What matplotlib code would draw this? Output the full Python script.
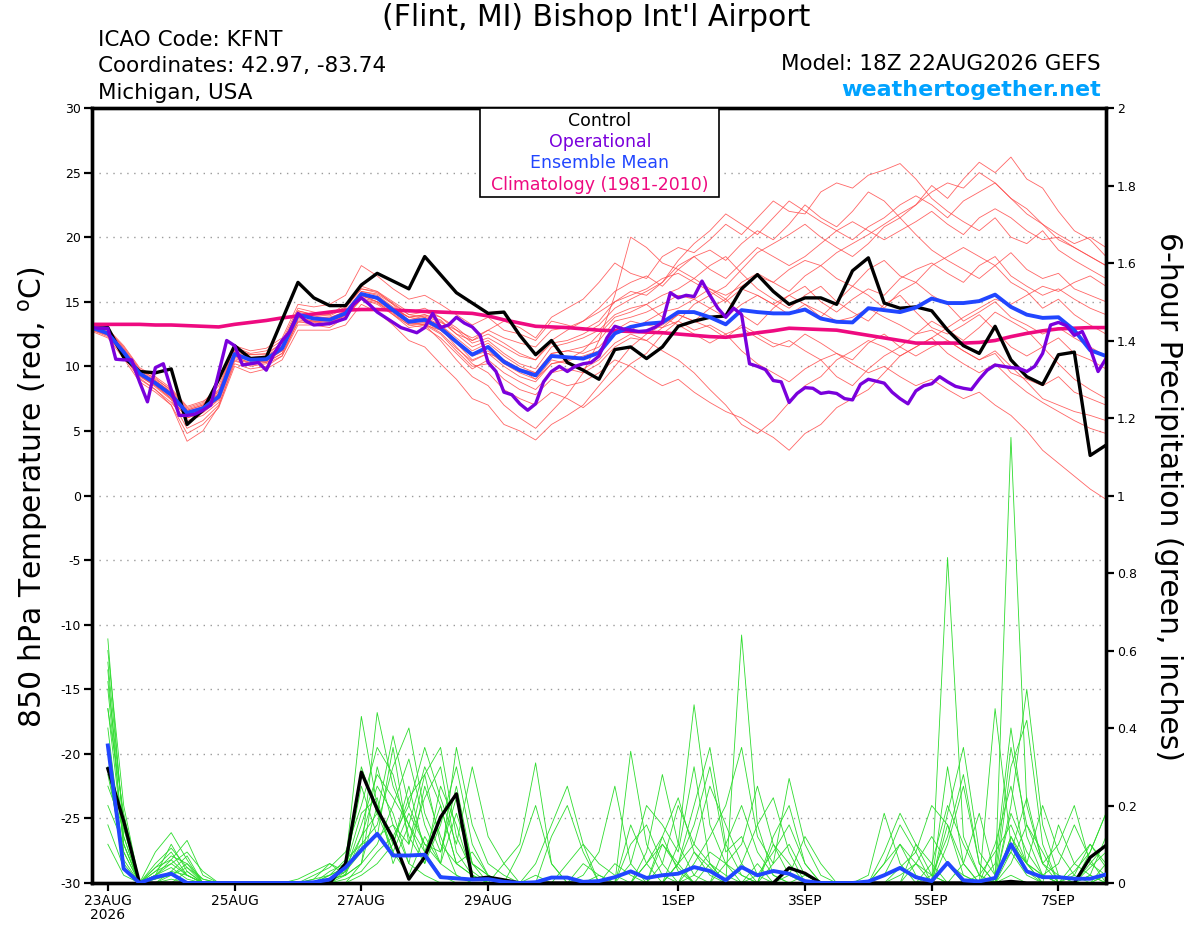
import numpy as np
import matplotlib
matplotlib.use('Agg')
import matplotlib.pyplot as plt
from matplotlib.patches import Rectangle

plt.rcParams['font.family'] = ['DejaVu Sans']
plt.rcParams['axes.unicode_minus'] = False

# ---------------- time axes (days since 23AUG2026 00Z) ----------------
hours_6h = np.arange(-6, 385 - 6, 6)          # 65 steps, 18Z 22AUG .. 06Z 8SEP
hours_3h = np.arange(-6, 385 - 6, 3)          # 129 steps for operational run
tick_days = [0, 2, 4, 6, 9, 11, 13, 15]
tick_labels = ['23AUG\n2026', '25AUG', '27AUG', '29AUG', '1SEP', '3SEP', '5SEP', '7SEP']
temp_ticks = [30, 25, 20, 15, 10, 5, 0, -5, -10, -15, -20, -25, -30]
precip_ticks = [0, 0.2, 0.4, 0.6, 0.8, 1.0, 1.2, 1.4, 1.6, 1.8, 2.0]
precip_tick_labels = ['0', '0.2', '0.4', '0.6', '0.8', '1', '1.2', '1.4', '1.6', '1.8', '2']

# ---------------- 850 hPa temperature (deg C) ----------------
control_temp = [12.9, 13.0, 10.7, 9.6, 9.5, 9.8, 5.5, 6.6, 9.0, 11.6,
                10.6, 10.7, 13.6, 16.5, 15.3, 14.7, 14.7, 16.3, 17.2, 16.6,
                16.0, 18.5, 17.1, 15.7, 14.9, 14.1, 14.2, 12.4, 10.9, 12.0,
                10.3, 9.7, 9.0, 11.3, 11.5, 10.6, 11.5, 13.1, 13.5, 13.8,
                13.9, 16.0, 17.1, 15.8, 14.8, 15.3, 15.3, 14.8, 17.4, 18.4,
                14.9, 14.5, 14.6, 14.3, 12.8, 11.6, 11.0, 13.1, 10.5, 9.2,
                8.6, 10.9, 11.1, 3.1, 3.9]

oper_temp = [13.0, 12.95, 12.95, 10.55, 10.5, 10.5, 8.8, 7.25, 9.9, 10.2,
             8.2, 6.2, 6.2, 6.3, 6.6, 7.0, 9.5, 12.0, 11.6, 10.1,
             10.2, 10.3, 9.7, 11.0, 12.0, 12.7, 14.1, 13.5, 13.2, 13.25,
             13.3, 13.5, 13.7, 14.8, 15.3, 14.8, 14.2, 13.8, 13.4, 13.0,
             12.8, 12.6, 13.0, 14.1, 13.0, 13.2, 13.8, 13.35, 13.05, 12.4,
             10.3, 9.6, 8.0, 7.8, 7.1, 6.6, 7.1, 8.8, 9.6, 10.0,
             9.6, 10.0, 10.2, 10.3, 10.8, 12.2, 13.1, 12.9, 12.8, 12.7,
             12.75, 13.0, 13.4, 15.7, 15.3, 15.5, 15.4, 16.6, 15.5, 14.5,
             13.8, 14.5, 14.0, 10.2, 10.0, 9.75, 8.9, 8.8, 7.2, 7.9,
             8.35, 8.3, 7.9, 8.0, 7.9, 7.5, 7.4, 8.6, 9.0, 8.85,
             8.7, 8.0, 7.5, 7.1, 8.1, 8.5, 8.65, 9.2, 8.8, 8.45,
             8.3, 8.2, 9.0, 9.7, 10.1, 10.0, 9.9, 9.85, 9.6, 10.0,
             11.0, 13.2, 13.4, 13.15, 12.4, 12.7, 11.4, 9.6, 10.6]

mean_temp = [13.0, 12.55, 11.1, 9.45, 8.7, 7.8, 6.4, 6.75, 7.65, 10.95,
             10.5, 10.55, 11.4, 14.0, 13.7, 13.6, 14.1, 15.6, 15.3, 14.35,
             13.45, 13.6, 12.95, 11.9, 10.9, 11.5, 10.35, 9.7, 9.3, 10.8,
             10.7, 10.6, 11.05, 12.55, 13.05, 13.3, 13.4, 14.2, 14.2, 13.8,
             13.25, 14.35, 14.2, 14.1, 14.1, 14.4, 13.7, 13.45, 13.4, 14.5,
             14.35, 14.2, 14.55, 15.25, 14.9, 14.9, 15.05, 15.55, 14.6, 14.0,
             13.75, 13.8, 12.8, 11.25, 10.8]

clim_temp = [13.25, 13.25, 13.25, 13.25, 13.2, 13.2, 13.15, 13.1, 13.05, 13.25,
             13.4, 13.55, 13.75, 13.9, 14.05, 14.2, 14.35, 14.4, 14.4, 14.35,
             14.3, 14.25, 14.2, 14.15, 14.1, 13.9, 13.6, 13.35, 13.1, 13.05,
             13.0, 12.9, 12.8, 12.75, 12.7, 12.65, 12.6, 12.5, 12.4, 12.3,
             12.25, 12.4, 12.6, 12.75, 12.95, 12.9, 12.85, 12.8, 12.6, 12.4,
             12.2, 12.0, 11.8, 11.8, 11.8, 11.8, 11.85, 12.0, 12.3, 12.55,
             12.75, 12.9, 12.95, 13.0, 13.0]

ens_t01 = [13.2, 12.8, 11.5, 9.8, 9.0, 8.2, 6.8, 7.2, 8.5, 11.5, 11.0, 11.2, 12.0, 14.5, 14.2, 14.0, 14.8, 16.2, 15.8, 15.0,
           14.2, 14.5, 13.8, 13.0, 12.0, 12.5, 11.8, 11.0, 10.5, 12.0, 12.8, 13.5, 14.5, 15.8, 16.5, 17.0, 16.2, 17.5, 18.5, 19.0,
           18.2, 19.5, 20.5, 19.8, 21.0, 22.5, 21.5, 20.8, 22.0, 23.5, 22.8, 21.5, 22.5, 24.0, 23.0, 24.5, 25.8, 25.0, 26.2, 24.5,
           23.8, 22.0, 20.5, 19.8, 18.5]
ens_t02 = [13.0, 12.5, 11.0, 9.2, 8.5, 7.5, 6.0, 6.5, 7.5, 10.8, 10.2, 10.5, 11.2, 13.8, 13.5, 13.2, 14.0, 15.5, 15.0, 14.5,
           13.8, 14.0, 13.5, 12.5, 12.0, 12.8, 13.5, 13.0, 12.2, 13.8, 14.5, 15.2, 16.5, 18.0, 17.2, 16.8, 18.5, 19.2, 18.8, 19.8,
           21.0, 20.2, 21.5, 22.8, 22.0, 21.8, 23.5, 24.2, 23.8, 24.8, 25.2, 25.7, 24.5, 23.0, 22.0, 21.2, 20.5, 21.5, 20.0, 19.5,
           20.5, 19.0, 18.2, 17.5, 16.8]
ens_t03 = [12.8, 12.3, 10.8, 9.0, 8.2, 7.2, 5.8, 6.2, 7.2, 10.5, 10.0, 10.2, 10.8, 13.5, 13.2, 13.0, 13.8, 15.2, 14.8, 14.0,
           13.2, 13.0, 12.2, 11.0, 9.8, 10.5, 9.5, 8.8, 8.2, 9.5, 9.8, 9.5, 10.2, 11.5, 12.2, 12.0, 13.0, 13.5, 12.8, 13.2,
           12.5, 13.0, 12.2, 11.5, 12.0, 11.2, 10.5, 11.0, 10.2, 9.5, 10.0, 9.2, 8.5, 9.0, 8.2, 7.5, 8.0, 7.0, 6.2, 5.0,
           3.5, 2.5, 1.5, 0.5, -0.3]
ens_t04 = [13.1, 12.6, 11.2, 9.6, 8.6, 7.6, 6.2, 6.6, 7.6, 10.9, 10.4, 10.4, 11.3, 13.9, 13.8, 13.8, 14.2, 15.4, 15.2, 14.2,
           13.4, 13.2, 12.5, 11.2, 10.0, 10.2, 9.0, 8.2, 7.8, 9.0, 8.5, 8.8, 9.5, 10.5, 10.0, 9.2, 8.5, 9.0, 8.0, 7.2,
           6.5, 6.0, 5.2, 4.5, 3.5, 4.8, 5.5, 6.8, 7.5, 8.2, 9.5, 10.8, 11.5, 12.2, 13.0, 13.8, 14.5, 15.2, 14.8, 15.5,
           16.2, 15.8, 16.5, 17.0, 16.2]
ens_t05 = [13.0, 12.7, 11.3, 9.4, 8.8, 7.9, 6.6, 7.0, 7.9, 11.2, 10.7, 10.8, 11.6, 14.2, 13.9, 13.7, 14.3, 15.8, 15.5, 14.6,
           13.8, 14.0, 13.6, 12.5, 11.5, 12.0, 11.0, 10.2, 9.8, 11.5, 11.8, 12.2, 12.8, 14.0, 14.5, 14.8, 15.5, 16.0, 16.8, 16.0,
           15.2, 16.5, 17.2, 16.5, 15.8, 17.0, 17.8, 16.8, 16.2, 17.5, 18.2, 17.0, 16.5, 17.8, 18.5, 19.2, 18.5, 17.8, 18.8, 17.5,
           16.8, 17.2, 16.0, 15.5, 15.0]
ens_t06 = [12.9, 12.4, 10.9, 9.3, 8.4, 7.4, 5.2, 5.8, 7.0, 10.2, 9.8, 10.0, 10.8, 13.2, 13.2, 13.4, 14.0, 15.8, 15.6, 14.8,
           13.5, 13.2, 12.0, 10.5, 9.2, 8.5, 7.0, 6.0, 5.2, 6.5, 7.8, 9.5, 12.0, 15.5, 20.0, 19.2, 18.0, 17.5, 16.8, 17.8,
           18.5, 17.2, 16.0, 15.2, 14.5, 15.5, 16.2, 15.0, 14.2, 13.5, 14.8, 15.5, 14.2, 13.0, 12.5, 13.2, 14.0, 12.8, 11.5, 10.8,
           11.5, 12.2, 11.0, 10.5, 9.8]
ens_t07 = [13.2, 12.9, 11.6, 9.9, 9.2, 8.3, 6.9, 7.3, 8.0, 11.3, 10.9, 10.9, 11.8, 14.3, 14.0, 13.9, 14.5, 16.0, 15.7, 14.9,
           14.0, 13.8, 13.0, 11.5, 10.2, 9.5, 8.2, 7.5, 7.0, 8.0, 7.5, 6.8, 7.8, 9.0, 10.2, 11.0, 12.5, 13.5, 14.8, 15.5,
           16.2, 17.5, 18.8, 19.5, 20.2, 21.0, 20.0, 19.2, 18.5, 19.5, 20.8, 21.5, 20.2, 19.0, 18.2, 17.5, 16.8, 17.8, 16.5, 15.8,
           14.5, 15.2, 14.0, 13.2, 12.5]
ens_t08 = [13.0, 12.6, 11.0, 9.5, 8.9, 8.0, 6.5, 6.7, 7.8, 11.0, 10.6, 10.7, 11.5, 14.1, 13.6, 13.5, 14.0, 15.6, 15.2, 14.3,
           13.5, 13.8, 13.2, 12.2, 11.2, 11.8, 10.8, 10.0, 9.5, 11.0, 11.2, 11.0, 11.5, 12.8, 13.5, 13.2, 13.0, 14.0, 13.5, 13.0,
           12.2, 13.2, 12.5, 11.8, 11.5, 12.5, 11.8, 11.0, 10.5, 11.8, 12.5, 11.5, 10.8, 11.5, 12.0, 11.2, 10.5, 11.0, 9.5, 9.0,
           8.5, 9.2, 8.0, 7.5, 7.0]
ens_t09 = [13.3, 12.9, 11.4, 9.7, 9.1, 8.1, 6.7, 7.1, 8.2, 11.6, 11.2, 11.4, 12.2, 14.8, 14.6, 14.8, 15.5, 17.8, 17.0, 16.0,
           15.2, 15.5, 14.8, 14.0, 13.2, 13.8, 12.8, 12.5, 12.0, 13.5, 13.2, 12.8, 13.5, 15.0, 15.8, 15.5, 16.5, 18.2, 19.5, 20.5,
           21.8, 21.0, 20.2, 21.5, 22.8, 22.0, 21.2, 20.5, 19.8, 20.8, 21.5, 22.5, 23.2, 22.5, 21.5, 22.8, 23.5, 24.2, 23.0, 22.2,
           21.0, 20.2, 19.5, 20.0, 19.2]
ens_t10 = [12.7, 12.2, 10.6, 8.8, 8.0, 7.0, 4.8, 5.5, 6.8, 10.0, 9.5, 9.8, 10.5, 12.8, 12.8, 12.8, 13.2, 14.8, 14.2, 13.2,
           12.0, 11.5, 10.2, 9.0, 7.5, 7.0, 5.5, 5.0, 4.3, 5.5, 6.2, 7.0, 8.5, 10.0, 11.5, 12.5, 13.2, 14.0, 13.5, 14.5,
           15.2, 14.0, 13.2, 14.5, 15.5, 14.8, 13.8, 15.0, 16.2, 15.5, 14.5, 15.8, 16.5, 15.5, 14.8, 13.5, 14.2, 15.0, 13.8, 13.2,
           12.5, 13.0, 12.2, 11.5, 10.8]
ens_t11 = [12.8, 12.4, 10.8, 9.1, 8.2, 7.0, 4.2, 5.0, 6.9, 10.4, 10.1, 10.3, 11.0, 13.4, 13.5, 13.5, 14.2, 15.5, 15.0, 14.0,
           13.0, 13.2, 12.8, 11.8, 10.5, 11.0, 10.5, 9.8, 9.0, 10.2, 10.5, 11.2, 12.5, 13.8, 14.2, 14.8, 13.8, 13.2, 12.5, 11.8,
           12.5, 11.2, 10.2, 9.5, 8.8, 9.8, 10.5, 9.2, 8.5, 9.8, 10.8, 11.5, 12.5, 13.5, 12.8, 12.0, 13.0, 14.2, 13.5, 12.8,
           11.5, 10.2, 9.0, 8.2, 7.5]
ens_t12 = [13.1, 12.7, 11.2, 9.5, 8.8, 7.8, 6.3, 6.9, 7.9, 11.1, 10.6, 10.6, 11.4, 14.0, 13.8, 13.6, 14.2, 15.6, 15.3, 14.5,
           13.8, 13.6, 13.2, 12.0, 11.0, 11.5, 10.5, 9.8, 9.5, 11.0, 11.2, 11.5, 12.0, 13.5, 13.8, 14.2, 14.8, 15.5, 15.2, 16.0,
           15.5, 16.2, 17.0, 16.5, 17.5, 18.2, 17.8, 18.8, 19.5, 20.2, 21.0, 21.8, 22.5, 23.5, 24.2, 23.8, 25.0, 24.2, 23.0, 21.8,
           21.0, 19.8, 19.2, 18.5, 17.8]
ens_t13 = [13.0, 12.5, 11.1, 9.4, 8.6, 7.7, 6.2, 6.6, 7.5, 10.7, 10.3, 10.4, 11.2, 13.7, 13.5, 13.4, 13.9, 15.3, 15.0, 14.2,
           13.3, 13.4, 12.8, 11.8, 10.8, 11.2, 10.2, 9.5, 9.0, 10.5, 10.2, 9.8, 10.5, 11.8, 12.5, 12.0, 11.2, 10.5, 9.5, 8.2,
           7.0, 5.5, 4.8, 5.8, 7.2, 8.5, 9.2, 10.5, 11.2, 12.0, 11.5, 10.8, 11.5, 12.2, 11.0, 10.2, 9.5, 10.2, 9.0, 8.0,
           7.2, 6.5, 5.8, 5.2, 4.8]
ens_t14 = [13.0, 12.6, 11.2, 9.6, 8.8, 7.9, 6.5, 6.9, 7.8, 11.0, 10.5, 10.7, 11.5, 14.0, 13.7, 13.7, 14.2, 15.5, 15.4, 14.5,
           13.6, 13.9, 13.4, 12.8, 12.2, 12.8, 12.2, 11.8, 11.5, 12.8, 13.0, 13.5, 14.2, 15.0, 15.5, 16.0, 16.8, 17.2, 16.5, 15.8,
           15.0, 16.0, 15.5, 14.8, 15.5, 16.2, 15.0, 14.2, 15.2, 16.0, 15.5, 16.8, 17.5, 18.0, 17.2, 16.5, 17.8, 18.5, 17.0, 16.2,
           15.5, 16.0, 15.2, 14.5, 14.0]
ens_t15 = [12.9, 12.5, 11.0, 9.3, 8.5, 7.5, 6.0, 6.4, 7.4, 10.6, 10.2, 10.3, 11.0, 13.6, 13.4, 13.3, 13.8, 15.2, 14.9, 14.1,
           13.2, 13.3, 12.6, 11.4, 10.4, 11.0, 10.0, 9.2, 8.8, 10.2, 10.4, 10.8, 11.2, 12.5, 12.8, 13.5, 14.2, 14.5, 15.2, 14.5,
           13.8, 14.8, 15.5, 14.8, 14.0, 14.8, 14.2, 13.5, 13.8, 14.5, 13.8, 13.2, 12.5, 12.8, 12.0, 11.2, 10.5, 11.2, 10.0, 8.8,
           7.5, 7.0, 6.5, 6.2, 5.8]
ens_t16 = [13.1, 12.8, 11.3, 9.7, 8.9, 8.0, 6.6, 7.0, 8.1, 11.4, 10.9, 11.0, 11.8, 14.3, 14.0, 14.0, 14.6, 16.0, 15.8, 14.8,
           14.0, 14.2, 13.8, 12.8, 11.8, 12.2, 11.5, 10.8, 10.5, 11.8, 12.0, 12.5, 13.2, 14.5, 15.2, 15.8, 16.5, 17.8, 18.5, 17.5,
           16.8, 18.0, 19.2, 18.5, 17.8, 18.5, 19.5, 20.5, 21.2, 20.5, 19.8, 20.5, 21.2, 22.0, 21.0, 20.2, 21.5, 22.2, 21.5, 20.5,
           19.8, 20.0, 19.2, 18.5, 17.8]

# ---------------- 6-hour precipitation (inches), periods ending 00Z 23AUG .. 06Z 8SEP ----------------
control_precip = [0.295, 0.16, 0, 0, 0, 0, 0, 0, 0, 0, 0, 0, 0, 0, 0, 0.05,
                  0.286, 0.19, 0.115, 0.01, 0.067, 0.17, 0.23, 0.01, 0.015, 0.008, 0, 0, 0, 0, 0, 0,
                  0, 0, 0, 0, 0, 0, 0, 0, 0, 0, 0, 0.039, 0.025, 0, 0, 0,
                  0, 0, 0, 0, 0, 0, 0, 0, 0, 0.004, 0, 0, 0, 0, 0.066, 0.097]
mean_precip = [0.355, 0.037, 0, 0.015, 0.024, 0, 0, 0, 0, 0, 0, 0, 0, 0.002, 0.009, 0.04,
               0.085, 0.127, 0.071, 0.071, 0.073, 0.015, 0.012, 0.009, 0.01, 0.003, 0, 0.002, 0.014, 0.014, 0.003, 0.005,
               0.015, 0.03, 0.013, 0.02, 0.024, 0.041, 0.031, 0.007, 0.041, 0.02, 0.031, 0.024, 0.005, 0, 0, 0,
               0.004, 0.02, 0.039, 0.015, 0.005, 0.052, 0.007, 0.004, 0.013, 0.1, 0.03, 0.015, 0.015, 0.011, 0.011, 0.022]

ens_p01 = [0.63, 0.12, 0, 0.03, 0.05, 0.02, 0, 0, 0, 0, 0, 0, 0, 0, 0.01, 0.02,
           0.12, 0.25, 0.18, 0.05, 0.02, 0, 0, 0, 0, 0, 0, 0, 0, 0, 0, 0,
           0, 0, 0.05, 0.12, 0.03, 0, 0, 0, 0.64, 0.15, 0.02, 0, 0, 0, 0, 0,
           0, 0, 0, 0, 0, 0.05, 0, 0, 0, 0.02, 0, 0, 0, 0.03, 0.08, 0.18]
ens_p02 = [0.57, 0.15, 0, 0.08, 0.13, 0.06, 0, 0, 0, 0, 0, 0, 0, 0.02, 0.04, 0.08,
           0.2, 0.35, 0.28, 0.12, 0.05, 0.15, 0.3, 0.1, 0.02, 0, 0, 0.02, 0, 0, 0, 0,
           0, 0, 0, 0, 0.1, 0.46, 0.15, 0.05, 0.02, 0, 0, 0, 0, 0, 0, 0,
           0, 0, 0, 0, 0, 0.84, 0.12, 0.02, 0, 0.05, 0.15, 0.08, 0, 0, 0, 0]
ens_p03 = [0.55, 0.08, 0, 0.02, 0.1, 0.03, 0, 0, 0, 0, 0, 0, 0, 0, 0.03, 0.05,
           0.43, 0.2, 0.1, 0.25, 0.08, 0.02, 0, 0, 0, 0.05, 0.1, 0.31, 0.05, 0, 0, 0.02,
           0, 0.34, 0.1, 0.02, 0, 0, 0, 0.05, 0.1, 0.25, 0.1, 0.02, 0, 0, 0, 0,
           0, 0.05, 0.1, 0.02, 0, 0, 0, 0, 0.45, 0.1, 0.05, 0, 0, 0, 0.02, 0]
ens_p04 = [0.5, 0.1, 0, 0.05, 0.09, 0.04, 0.01, 0, 0, 0, 0, 0, 0.01, 0.03, 0.05, 0.03,
           0.08, 0.44, 0.25, 0.15, 0.3, 0.2, 0.05, 0.02, 0, 0, 0, 0, 0, 0.05, 0.1, 0.05,
           0.02, 0, 0, 0, 0.05, 0.2, 0.35, 0.1, 0.02, 0, 0.05, 0.1, 0.02, 0, 0, 0,
           0, 0, 0, 0, 0, 0.1, 0.25, 0.05, 0, 1.15, 0.2, 0.05, 0, 0, 0.05, 0.1]
ens_p05 = [0.45, 0.18, 0, 0.02, 0.06, 0.11, 0.02, 0, 0, 0, 0, 0, 0, 0, 0.02, 0.06,
           0.1, 0.15, 0.3, 0.4, 0.18, 0.08, 0.25, 0.05, 0.02, 0, 0, 0, 0.12, 0.2, 0.08, 0,
           0, 0.05, 0.2, 0.15, 0.08, 0.3, 0.05, 0, 0.05, 0.15, 0.22, 0.08, 0, 0, 0, 0,
           0, 0.08, 0.18, 0.1, 0.02, 0, 0, 0, 0.05, 0.4, 0.12, 0.02, 0, 0.05, 0.1, 0.04]
ens_p06 = [0.4, 0.06, 0, 0, 0.03, 0.07, 0, 0, 0, 0, 0, 0, 0, 0.01, 0.02, 0.04,
           0.25, 0.12, 0.35, 0.1, 0.28, 0.35, 0.12, 0.03, 0, 0, 0, 0, 0, 0, 0.02, 0.08,
           0.25, 0.05, 0, 0, 0, 0.05, 0.12, 0.2, 0.35, 0.12, 0.05, 0.27, 0.1, 0.02, 0, 0,
           0, 0, 0, 0.05, 0.12, 0.05, 0, 0, 0, 0.1, 0.05, 0.2, 0.08, 0.02, 0, 0]
ens_p07 = [0.3, 0.05, 0, 0.04, 0.08, 0.02, 0, 0, 0, 0, 0, 0, 0, 0, 0.01, 0.02,
           0.05, 0.1, 0.2, 0.32, 0.15, 0.05, 0.35, 0.15, 0.05, 0.02, 0, 0, 0, 0, 0, 0,
           0, 0, 0.08, 0.28, 0.1, 0.02, 0, 0, 0, 0, 0.1, 0.05, 0, 0, 0, 0,
           0.02, 0.18, 0.05, 0, 0, 0.3, 0.05, 0, 0, 0.3, 0.42, 0.1, 0, 0, 0, 0.02]
ens_p08 = [0.2, 0.1, 0, 0.01, 0.02, 0.05, 0.01, 0, 0, 0, 0, 0, 0, 0, 0, 0.01,
           0.03, 0.08, 0.12, 0.2, 0.35, 0.22, 0.1, 0.3, 0.12, 0.05, 0, 0, 0, 0, 0, 0,
           0.05, 0.02, 0, 0.12, 0.22, 0.08, 0.02, 0, 0, 0.05, 0, 0, 0.02, 0, 0, 0,
           0, 0, 0.04, 0.08, 0.2, 0.15, 0.02, 0, 0.1, 0.25, 0.05, 0.02, 0.05, 0.15, 0.06, 0]
ens_p09 = [0.15, 0.04, 0, 0, 0, 0.03, 0, 0, 0, 0, 0, 0, 0, 0, 0.02, 0.04,
           0.18, 0.22, 0.05, 0.15, 0.08, 0.2, 0.05, 0.08, 0.02, 0, 0, 0.05, 0.15, 0.25, 0.1, 0,
           0, 0, 0.05, 0.1, 0.04, 0, 0, 0.1, 0.2, 0.08, 0.02, 0, 0, 0, 0, 0,
           0, 0, 0, 0, 0.02, 0.12, 0.28, 0.05, 0, 0.2, 0.5, 0.15, 0.02, 0, 0.04, 0.08]
ens_p10 = [0.35, 0.12, 0, 0.02, 0.04, 0.01, 0, 0, 0, 0, 0, 0, 0, 0.01, 0.05, 0.02,
           0.3, 0.18, 0.08, 0.02, 0.12, 0.05, 0.18, 0.05, 0, 0, 0, 0, 0, 0, 0, 0,
           0, 0, 0, 0.05, 0.2, 0.1, 0.25, 0.15, 0.05, 0, 0, 0.02, 0.12, 0.05, 0, 0,
           0, 0, 0, 0, 0, 0.15, 0.05, 0, 0, 0.12, 0.05, 0, 0.15, 0.05, 0.02, 0]
ens_p11 = [0.25, 0.14, 0, 0.03, 0.07, 0.05, 0, 0, 0, 0, 0, 0, 0, 0, 0, 0.02,
           0.05, 0.3, 0.15, 0.05, 0.25, 0.12, 0.02, 0, 0, 0, 0.08, 0.2, 0.05, 0, 0, 0,
           0, 0.1, 0.15, 0.05, 0, 0, 0, 0, 0, 0.02, 0.08, 0.15, 0.05, 0, 0, 0,
           0, 0, 0, 0.1, 0.05, 0, 0.05, 0.18, 0.02, 0.08, 0.22, 0.05, 0.1, 0.2, 0.05, 0.02]
ens_p12 = [0.6, 0.2, 0, 0.01, 0.03, 0.02, 0, 0, 0, 0, 0, 0, 0, 0, 0.01, 0.03,
           0.15, 0.28, 0.22, 0.15, 0.05, 0.25, 0.15, 0.02, 0, 0, 0, 0, 0, 0, 0.05, 0.02,
           0, 0.15, 0.05, 0, 0.05, 0.15, 0.3, 0.08, 0.12, 0.02, 0, 0, 0, 0, 0, 0,
           0, 0, 0, 0, 0.05, 0.2, 0.1, 0.02, 0, 0.18, 0.08, 0.02, 0, 0, 0.08, 0.18]
ens_p13 = [0.1, 0.02, 0, 0, 0.01, 0, 0, 0, 0, 0, 0, 0, 0, 0, 0, 0,
           0.02, 0.05, 0.1, 0.22, 0.28, 0.1, 0.05, 0.02, 0, 0, 0, 0, 0, 0, 0, 0,
           0, 0, 0, 0, 0, 0.02, 0.08, 0.05, 0, 0, 0, 0, 0, 0, 0, 0,
           0, 0, 0.02, 0.05, 0.02, 0, 0, 0.02, 0.08, 0.15, 0.05, 0.02, 0, 0, 0, 0.05]
ens_p14 = [0.45, 0.1, 0, 0.02, 0.05, 0.08, 0.03, 0, 0, 0, 0, 0, 0, 0, 0, 0.03,
           0.1, 0.12, 0.15, 0.1, 0.22, 0.3, 0.08, 0.02, 0, 0, 0, 0, 0, 0, 0, 0,
           0, 0, 0, 0, 0, 0.08, 0.04, 0, 0, 0, 0.12, 0.2, 0.05, 0, 0, 0,
           0, 0.02, 0.1, 0.05, 0, 0.18, 0.35, 0.08, 0.02, 0.35, 0.15, 0.05, 0.02, 0, 0, 0.02]
ens_p15 = [0.28, 0.08, 0, 0, 0.02, 0.04, 0, 0, 0, 0, 0, 0, 0, 0, 0, 0,
           0.05, 0.2, 0.08, 0.18, 0.1, 0.05, 0.02, 0, 0, 0, 0, 0, 0, 0, 0, 0,
           0, 0, 0, 0, 0.05, 0.1, 0.05, 0, 0, 0, 0, 0, 0, 0, 0, 0,
           0, 0, 0, 0, 0, 0.05, 0.02, 0, 0, 0.12, 0.03, 0, 0, 0.02, 0.1, 0.05]
ens_p16 = [0.52, 0.16, 0, 0.04, 0.06, 0.02, 0, 0, 0, 0, 0, 0, 0, 0, 0.01, 0.04,
           0.12, 0.18, 0.38, 0.2, 0.1, 0.08, 0.22, 0.05, 0.02, 0, 0, 0, 0, 0, 0, 0,
           0, 0, 0, 0.1, 0.05, 0, 0.05, 0.02, 0, 0, 0, 0, 0, 0, 0, 0,
           0, 0.05, 0.15, 0.08, 0, 0, 0, 0, 0, 0.08, 0.02, 0, 0, 0, 0.02, 0.12]

ens_temps = [ens_t01, ens_t02, ens_t03, ens_t04, ens_t05, ens_t06, ens_t07, ens_t08,
             ens_t09, ens_t10, ens_t11, ens_t12, ens_t13, ens_t14, ens_t15, ens_t16]
ens_precips = [ens_p01, ens_p02, ens_p03, ens_p04, ens_p05, ens_p06, ens_p07, ens_p08,
               ens_p09, ens_p10, ens_p11, ens_p12, ens_p13, ens_p14, ens_p15, ens_p16]

# ---------------- figure ----------------
W, H = 1200, 927
fig = plt.figure(figsize=(W / 100, H / 100), dpi=100)
ax = fig.add_axes([92 / W, 1 - 883 / H, (1106 - 92) / W, (883 - 108) / H])
ax2 = ax.twinx()

t6 = np.array(hours_6h) / 24.0
t3 = np.array(hours_3h) / 24.0
tp = t6[1:]

RED = '#ff4a4a'
GREEN = '#2edc2e'
PURPLE = '#7a00dc'
BLUE = '#2146ff'
PINK = '#ee0a80'

for m in ens_temps:
    ax.plot(t6, m, color=RED, lw=0.6, alpha=0.85, zorder=2)
ax.plot(t6, clim_temp, color=PINK, lw=2.6, zorder=4, solid_joinstyle='round')
ax.plot(t6, control_temp, color='black', lw=2.4, zorder=5)
ax.plot(t6, mean_temp, color=BLUE, lw=2.8, zorder=6)
ax.plot(t3, oper_temp, color=PURPLE, lw=2.4, zorder=7)

for m in ens_precips:
    ax2.plot(tp, m, color=GREEN, lw=0.6, zorder=2)
ax2.plot(tp, control_precip, color='black', lw=2.4, zorder=5)
ax2.plot(tp, mean_precip, color=BLUE, lw=2.8, zorder=6)

ax.set_xlim(t6[0], t6[-1])
ax.set_ylim(-30, 30)
ax2.set_ylim(0, 2)
ax.set_yticks(temp_ticks)
ax.set_yticklabels([str(v) for v in temp_ticks])
ax2.set_yticks(precip_ticks)
ax2.set_yticklabels(precip_tick_labels)
ax.set_xticks(tick_days)
ax.set_xticklabels(tick_labels)

ax.yaxis.grid(True, linestyle=(0, (1, 4)), color='#9a9a9a', lw=1.0)
ax.set_axisbelow(True)

for a in (ax, ax2):
    for s in a.spines.values():
        s.set_linewidth(2.4)
        s.set_color('black')
ax.tick_params(axis='y', direction='out', length=6, width=1.6, labelsize=9, pad=2)
ax.tick_params(axis='x', direction='out', length=6, width=1.6, labelsize=10, pad=2)
ax2.tick_params(axis='y', direction='out', length=6, width=1.6, labelsize=9, pad=2)
for lbl in ax.get_xticklabels():
    lbl.set_linespacing(1.0)

# axis titles
fig.text(33 / W, 1 - 497 / H, '850 hPa Temperature (red, $^{\\mathregular{o}}$C)',
         rotation=90, ha='center', va='center', fontsize=21.5)
fig.text(1168 / W, 1 - 497 / H, '6-hour Precipitation (green, inches)',
         rotation=270, ha='center', va='center', fontsize=21.5)

# header texts
fig.text(596 / W, 1 - 18 / H, "(Flint, MI) Bishop Int'l Airport", ha='center', va='center', fontsize=21.5)
fig.text(98 / W, 1 - 40 / H, 'ICAO Code: KFNT', ha='left', va='center', fontsize=15.5)
fig.text(98 / W, 1 - 66 / H, 'Coordinates: 42.97, -83.74', ha='left', va='center', fontsize=15.5)
fig.text(98 / W, 1 - 93 / H, 'Michigan, USA', ha='left', va='center', fontsize=15.5)
fig.text(1101 / W, 1 - 64 / H, 'Model: 18Z 22AUG2026 GEFS', ha='right', va='center', fontsize=15.5)
fig.text(1101 / W, 1 - 90 / H, 'weathertogether.net', ha='right', va='center', fontsize=16,
         fontweight='bold', color='#00a2ff')

# legend box
fig.patches.append(Rectangle((480 / W, 1 - 197 / H), 239 / W, 89 / H, transform=fig.transFigure,
                             facecolor='white', edgecolor='black', lw=1.2, zorder=10))
leg_items = [('Control', 'black', 121), ('Operational', PURPLE, 142),
             ('Ensemble Mean', BLUE, 163), ('Climatology (1981-2010)', PINK, 185)]
for txt, col, yp in leg_items:
    fig.text(600 / W, 1 - yp / H, txt, color=col, ha='center', va='center', fontsize=12.5, zorder=11)

fig.savefig('out.png', dpi=100)
